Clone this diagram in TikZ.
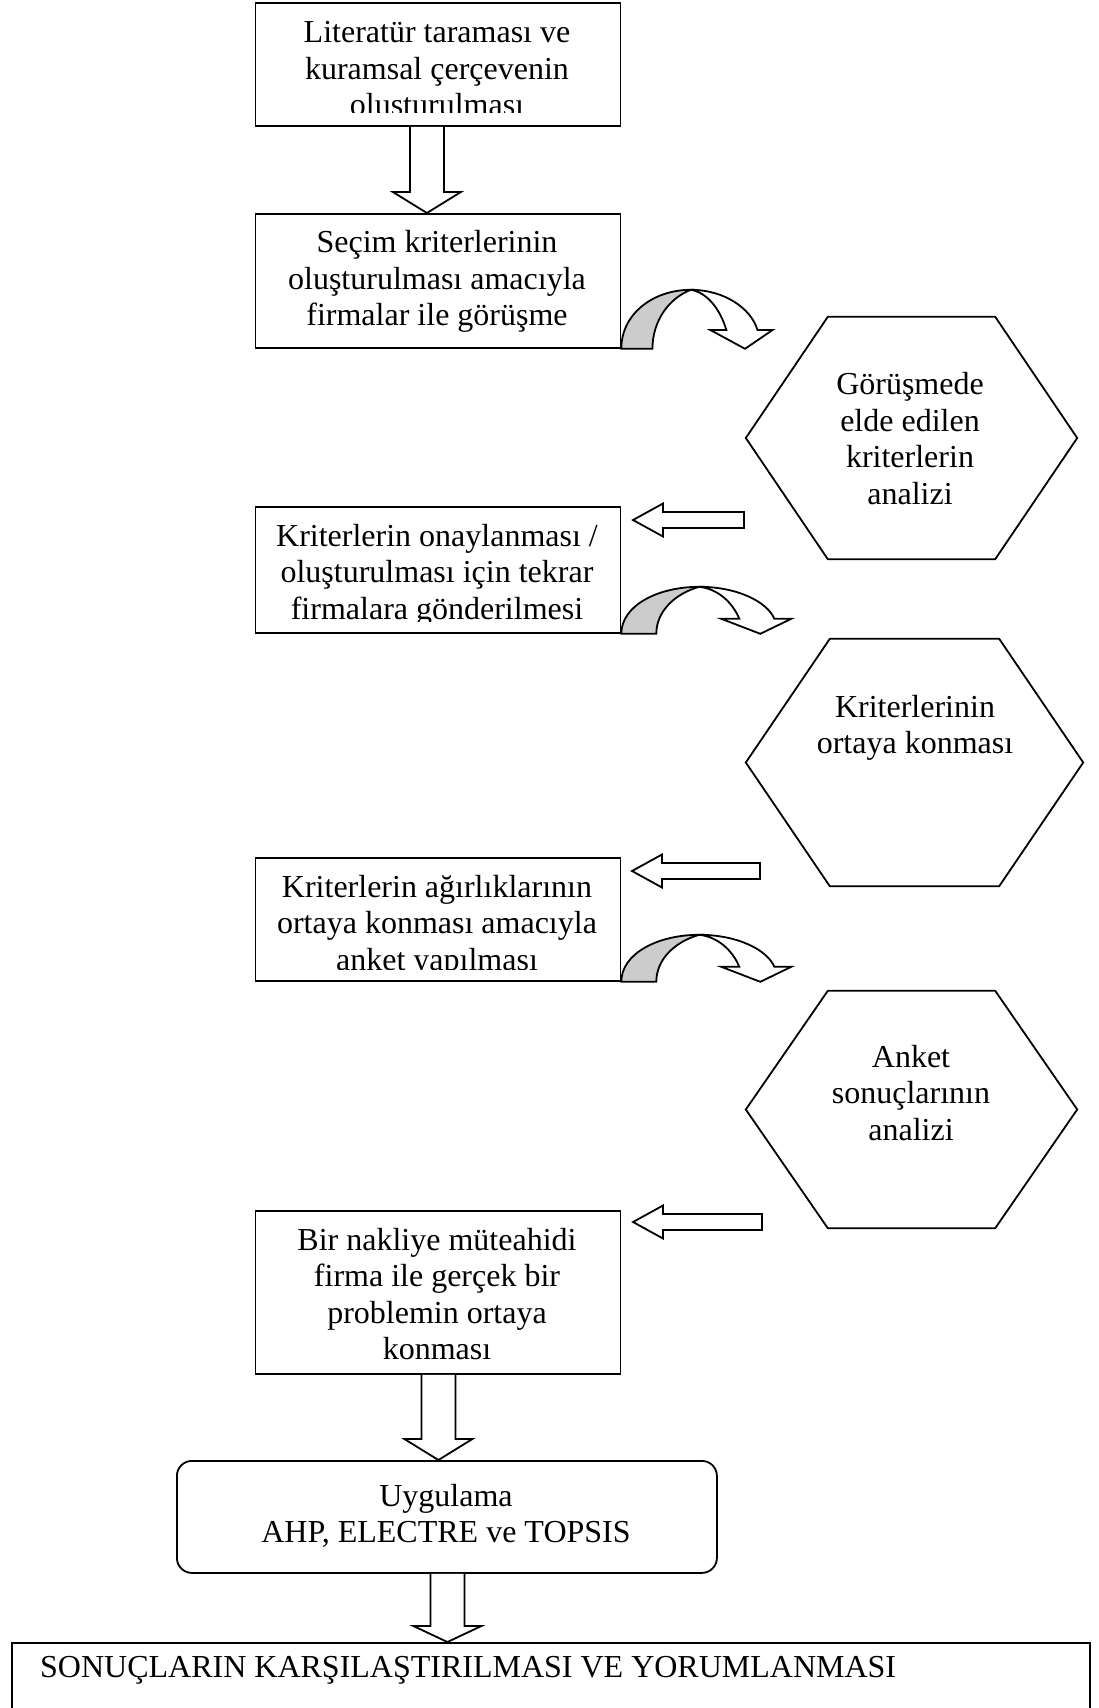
\documentclass[tikz,border=0pt]{standalone}
\usepackage{fontspec}
\setmainfont{Liberation Serif}
\usetikzlibrary{calc}

\tikzset{
  ln/.style={line width=1.8pt, line join=miter},
  boxnode/.style={draw, line width=1.8pt, inner sep=0pt, anchor=north west},
  txt/.style={font=\fontsize{32}{36.5}\selectfont, align=center, inner sep=0pt, anchor=north},
  blk/.style={ln, fill=white},
}

% downward block arrow: start point, tip point, head length
\newcommand\downblock[3]{%
  \draw[blk] let \p1=(#1), \p2=(#2) in
    (\x1-17pt,\y1) -- (\x1-17pt,\y2+#3) -- (\x1-34pt,\y2+#3) -- (\x1,\y2)
    -- (\x1+34pt,\y2+#3) -- (\x1+17pt,\y2+#3) -- (\x1+17pt,\y1);}

% leftward block arrow: tail point, tip point
\newcommand\leftblock[2]{%
  \draw[blk] let \p1=(#1), \p2=(#2) in
    (\x2,\y2) -- (\x2+30pt,\y2+16.5pt) -- (\x2+30pt,\y2+8pt) -- (\x1,\y2+8pt)
    -- (\x1,\y2-8pt) -- (\x2+30pt,\y2-8pt) -- (\x2+30pt,\y2-16.5pt) -- cycle;}

% curved down arrow, origin at the lower left corner of its base
\newcommand\curvedarrow{%
  \draw[ln, fill=gray!40] (0,0) .. controls (0,-28) and (36,-47) .. (78,-47)
    .. controls (53,-40) and (35,-22) .. (35,0) -- cycle;
  \draw[blk] (78,-47) .. controls (116,-47) and (146,-32) .. (153,-15)
    -- (170,-15) -- (139,0) -- (100,-15) -- (118,-15)
    .. controls (111,-32) and (96,-45) .. (78,-47) -- cycle;}

% hexagon drawn around a named frame node, corner inset #2
\newcommand\hexframe[2]{%
  \draw[ln] (#1.west) -- ($(#1.north west)+(#2,0)$) -- ($(#1.north east)+(-#2,0)$)
    -- (#1.east) -- ($(#1.south east)+(-#2,0)$) -- ($(#1.south west)+(#2,0)$) -- cycle;}

\begin{document}
\begin{tikzpicture}[x=1pt, y=-1pt]
\useasboundingbox (0,0) rectangle (1098,1708);

% ---- rectangular steps ----
\node[boxnode, minimum width=365pt, minimum height=123pt] (b1) at (254.5,2) {};
\node[boxnode, minimum width=365pt, minimum height=134pt] (b2) at (254.5,213) {};
\node[boxnode, minimum width=365pt, minimum height=126pt] (b3) at (254.5,506) {};
\node[boxnode, minimum width=365pt, minimum height=123pt] (b4) at (254.5,857) {};
\node[boxnode, minimum width=365pt, minimum height=163pt] (b5) at (254.5,1210) {};

\begin{scope}
  \clip ($(b1.south west)+(0,-14)$) rectangle (b1.north east);
  \node[txt] (t1) at (437,21.4) {Literatür taraması ve\\kuramsal çerçevenin\\oluşturulması};
\end{scope}
\begin{scope}
  \clip ($(b2.south west)+(0,-12)$) rectangle (b2.north east);
  \node[txt] (t2) at (437,230.5) {Seçim kriterlerinin\\oluşturulması amacıyla\\firmalar ile görüşme};
\end{scope}
\begin{scope}
  \clip ($(b3.south west)+(0,-12)$) rectangle (b3.north east);
  \node[txt] (t3) at (437,524) {Kriterlerin onaylanması /\\oluşturulması için tekrar\\firmalara gönderilmesi};
\end{scope}
\begin{scope}
  \clip ($(b4.south west)+(0,-12)$) rectangle (b4.north east);
  \node[txt] (t4) at (437,875) {Kriterlerin ağırlıklarının\\ortaya konması amacıyla\\anket yapılması};
\end{scope}
\begin{scope}
  \clip ($(b5.south west)+(0,-12)$) rectangle (b5.north east);
  \node[txt] (t5) at (437,1228) {Bir nakliye müteahidi\\firma ile gerçek bir\\problemin ortaya\\konması};
\end{scope}

% ---- hexagonal analysis steps ----
\node[minimum width=331pt, minimum height=242pt, inner sep=0pt] (h1) at (911.5,438) {};
\node[minimum width=337pt, minimum height=247pt, inner sep=0pt] (h2) at (914.5,762.5) {};
\node[minimum width=331pt, minimum height=237pt, inner sep=0pt] (h3) at (911.5,1109.5) {};
\hexframe{h1}{82}
\hexframe{h2}{84}
\hexframe{h3}{82}
\node[txt] (ht1) at (910,372.5) {Görüşmede\\elde edilen\\kriterlerin\\analizi};
\node[txt] (ht2) at (915,695) {Kriterlerinin\\ortaya konması};
\node[txt] (ht3) at (911,1045) {Anket\\sonuçlarının\\analizi};

% ---- application and result ----
\node[boxnode, rounded corners=15pt, minimum width=540pt, minimum height=112pt] (r1) at (176,1460) {};
\node[txt] (rt) at (446,1484) {Uygulama\\AHP, ELECTRE ve TOPSIS};
\node[boxnode, minimum width=1078pt, minimum height=90pt] (f1) at (11,1642) {};
\node[font=\fontsize{32}{36.5}\selectfont, inner sep=0pt, anchor=base west] (ft) at (40,1677)
  {SONUÇLARIN KARŞILAŞTIRILMASI VE YORUMLANMASI};

% ---- block arrows down the main column ----
\downblock{[xshift=-11pt]b1.south}{[xshift=-11pt]b2.north}{21pt}
\downblock{[xshift=0.5pt]b5.south}{[xshift=0.5pt]r1.north}{21pt}
\downblock{[xshift=0.5pt]r1.south}{[xshift=0.5pt]f1.north}{16pt}

% ---- curved arrows towards the analysis steps ----
\begin{scope}[shift={(b2.south east)}, xscale=0.89, yscale=1.255]
  \curvedarrow
\end{scope}
\begin{scope}[shift={(b3.south east)}]
  \curvedarrow
\end{scope}
\begin{scope}[shift={(b4.south east)}]
  \curvedarrow
\end{scope}

% ---- arrows back to the main column ----
\coordinate (l1tail) at (744,520);  \coordinate (l1tip) at (633,520);
\coordinate (l2tail) at (760,871);  \coordinate (l2tip) at (632,871);
\coordinate (l3tail) at (762,1222); \coordinate (l3tip) at (633,1222);
\leftblock{l1tail}{l1tip}
\leftblock{l2tail}{l2tip}
\leftblock{l3tail}{l3tip}
\end{tikzpicture}
\end{document}
